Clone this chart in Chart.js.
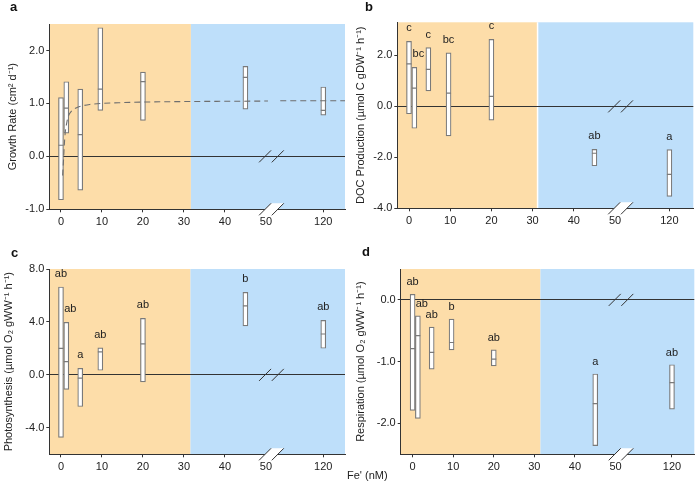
<!DOCTYPE html>
<html><head><meta charset="utf-8">
<script src="https://cdn.jsdelivr.net/npm/chart.js@4.4.1/dist/chart.umd.min.js"></script>
<style>
html,body{margin:0;padding:0;background:#fff;}
body{width:698px;height:491px;position:relative;overflow:hidden;font-family:"Liberation Sans",Arial,sans-serif;color:#222;}
canvas{position:absolute;}
.lbl{position:absolute;font-weight:bold;font-size:13px;color:#111;line-height:13px;}
</style></head><body>
<canvas id="ca" width="349" height="245" style="left:0;top:0"></canvas>
<canvas id="cb" width="349" height="245" style="left:349px;top:0"></canvas>
<canvas id="cc" width="349" height="246" style="left:0;top:245px"></canvas>
<canvas id="cd" width="349" height="246" style="left:349px;top:245px"></canvas>
<div class="lbl" style="left:10px;top:0px">a</div>
<div class="lbl" style="left:365px;top:0px">b</div>
<div class="lbl" style="left:11px;top:246px">c</div>
<div class="lbl" style="left:362px;top:245px">d</div>
<div style="position:absolute;left:347px;top:469px;font-size:11px;">Fe' (nM)</div>
<script>
// ---- data ----
const feValues = [0, 1.3, 4.7, 9.6, 20, 45, 120];
const xTickLabels = [0, 10, 20, 30, 40, 50, 120];

const growthLow    = [-0.82, 0.44, -0.64, 0.87, 0.68, 0.89, 0.78];
const growthHigh   = [1.11, 1.41, 1.27, 2.43, 1.59, 1.70, 1.31];
const growthMedian = [0.21, 0.91, 0.41, 1.27, 1.41, 1.49, 0.87];
const growthFitFe  = [0.4, 0.6, 0.8, 1.0, 1.4, 1.8, 2.5, 3.8, 5, 7, 10, 15, 20, 30, 40, 50.5, 75, 78, 142];
const growthFitY   = [-0.36, -0.1, 0.2, 0.42, 0.63, 0.76, 0.85, 0.92, 0.95, 0.98, 1.0, 1.015, 1.025, 1.035, 1.04, 1.045, null, 1.05, 1.05];
const growthTicks  = [-1, 0, 1, 2];

const docLow    = [-0.29, -0.86, 0.61, -1.16, -0.54, -2.33, -3.53];
const docHigh   = [2.55, 1.53, 2.31, 2.10, 2.63, -1.69, -1.70];
const docMedian = [1.67, 0.72, 1.45, 0.52, 0.39, -1.84, -2.67];
const docLetters = ['c', 'bc', 'c', 'bc', 'c', 'ab', 'a'];
const docTicks  = [-4, -2, 0, 2];

const photoLow    = [-4.73, -1.09, -2.39, 0.35, -0.53, 3.70, 2.01];
const photoHigh   = [6.64, 3.97, 0.50, 2.04, 4.27, 6.24, 4.12];
const photoMedian = [2.01, 1.00, -0.25, 1.74, 2.34, 5.21, 3.09];
const photoLetters = ['ab', 'ab', 'a', 'ab', 'ab', 'b', 'ab'];
const photoTicks  = [-4, 0, 4, 8];

const respLow    = [-1.79, -1.92, -1.12, -0.81, -1.07, -2.36, -1.77];
const respHigh   = [0.09, -0.26, -0.44, -0.31, -0.81, -1.20, -1.05];
const respMedian = [-0.79, -0.58, -0.85, -0.69, -0.96, -1.68, -1.34];
const respLetters = ['ab', 'ab', 'ab', 'b', 'ab', 'a', 'ab'];
const respTicks  = [-2, -1, 0];

// ---- rendering ----
Chart.defaults.font.family = "'Liberation Sans', Arial, Helvetica, sans-serif";
Chart.defaults.font.size = 11;
Chart.defaults.color = '#222';
Chart.defaults.animation = false;

const ORANGE = '#FDDDA9', BLUE = '#BEDFFA', BOXC = '#7a7a7a', AX = '#333';

// broken axis: Fe' above the break is compressed around the 120 tick
function axisPos(fe, p120) { return fe <= 52 ? fe : p120 + (fe - 120) / 4; }

function makePanel(id, P) {
  const cv = document.getElementById(id);
  const W = cv.width, H = cv.height;
  const A = P.area;
  const xs = v => axisPos(v, P.p120);
  const datasets = [];
  if (P.fitFe) {
    datasets.push({
      type: 'line',
      data: P.fitFe.map((f, i) => ({x: xs(f), y: P.fitY[i]})),
      borderColor: '#6e6e6e', borderWidth: 1.1, borderDash: [6, 4],
      pointRadius: 0, cubicInterpolationMode: 'monotone', spanGaps: false, fill: false, order: 0
    });
  }
  datasets.push({
    type: 'line', showLine: false,
    data: feValues.map((f, i) => ({x: xs(f), y: P.median[i]})),
    pointStyle: 'line', pointRadius: 2.5, pointBorderColor: BOXC, pointBorderWidth: 1.2,
    pointHoverRadius: 2.5, order: 1
  });
  datasets.push({
    type: 'bar',
    data: feValues.map((f, i) => ({x: xs(f), y: [P.low[i], P.high[i]]})),
    backgroundColor: '#fff', borderColor: BOXC, borderWidth: 1.2, borderSkipped: false,
    barThickness: 5, order: 2
  });

  const bgPlugin = {
    id: 'bg_' + id,
    beforeDraw(chart) {
      const {ctx, chartArea: ca, scales: {x}} = chart;
      const sx = x.getPixelForValue(P.split);
      ctx.save();
      ctx.fillStyle = ORANGE; ctx.fillRect(ca.left, ca.top, sx - ca.left, ca.bottom - ca.top);
      ctx.fillStyle = BLUE; ctx.fillRect(sx, ca.top, ca.right - sx, ca.bottom - ca.top);
      if (P.whiteSplit) { ctx.fillStyle = '#fff'; ctx.fillRect(sx - 0.75, ca.top, 1.5, ca.bottom - ca.top); }
      ctx.restore();
    },
    afterDatasetsDraw(chart) {
      if (!P.letters) return;
      const {ctx, scales: {x, y}} = chart;
      ctx.save();
      ctx.font = "11px 'Liberation Sans', Arial, sans-serif";
      ctx.fillStyle = '#222'; ctx.textAlign = 'center'; ctx.textBaseline = 'middle';
      P.letters.forEach((t, i) => {
        const px = x.getPixelForValue(xs(feValues[i])) + (i === 1 ? 4 : 0);
        const py = y.getPixelForValue(P.high[i]) - P.letterGap;
        ctx.fillText(t, px, py);
      });
      ctx.restore();
    },
    afterDraw(chart) {
      const {ctx, chartArea: ca, scales: {x, y}} = chart;
      const c1 = x.getPixelForValue(49.8), c2 = x.getPixelForValue(52.9);
      const yb = ca.bottom, y0 = y.getPixelForValue(0);
      ctx.save();
      ctx.fillStyle = '#fff';
      ctx.beginPath();
      ctx.moveTo(c1 - 6, yb + 6); ctx.lineTo(c1 + 6, yb - 6); ctx.lineTo(c2 + 6, yb - 6); ctx.lineTo(c2 - 6, yb + 6);
      ctx.closePath(); ctx.fill();
      ctx.strokeStyle = AX; ctx.lineWidth = 1;
      [yb, y0].forEach(yy => {
        [c1, c2].forEach(cx => {
          ctx.beginPath(); ctx.moveTo(cx - 6, yy + 6); ctx.lineTo(cx + 6, yy - 6); ctx.stroke();
        });
      });
      ctx.restore();
    }
  };

  return new Chart(cv, {
    type: 'bar',
    data: {datasets},
    plugins: [bgPlugin],
    options: {
      responsive: false, devicePixelRatio: 1, animation: false,
      layout: {padding: {left: 0, top: A.T, right: W - A.R, bottom: 0}},
      plugins: {legend: {display: false}, tooltip: {enabled: false}},
      scales: {
        x: {
          type: 'linear', offset: false, min: P.xMin, max: P.xMax,
          afterBuildTicks: s => { s.ticks = xTickLabels.map(v => ({value: xs(v)})); },
          afterFit: s => { s.height = H - A.B; },
          ticks: {
            autoSkip: false, maxRotation: 0, padding: 3, color: '#222',
            callback: (v, i) => String(xTickLabels[i])
          },
          grid: {offset: false, drawOnChartArea: false, drawTicks: true, tickLength: 3, tickColor: AX},
          border: {display: true, color: AX, width: 1}
        },
        y: {
          type: 'linear', min: P.yMin, max: P.yMax,
          afterBuildTicks: s => { s.ticks = P.yTicks.map(v => ({value: v})); },
          afterFit: s => { s.width = A.L; },
          ticks: {padding: 2, color: '#222', callback: v => Number(v).toFixed(1)},
          grid: {
            drawTicks: true, tickLength: 3, tickColor: AX,
            color: c => (c.tick && c.tick.value === 0) ? AX : 'rgba(0,0,0,0)',
            lineWidth: 1
          },
          border: {display: true, color: AX, width: 1},
          title: {display: true, text: P.title, color: '#222', font: {size: 11}, padding: {top: P.titlePad, bottom: 0}}
        }
      }
    }
  });
}

makePanel('ca', {
  area: {L: 49.3, R: 345, T: 24, B: 209.3},
  xMin: -2.85, xMax: 69.3, p120: 64, split: 31.7,
  yMin: -1, yMax: 2.5, yTicks: growthTicks,
  low: growthLow, high: growthHigh, median: growthMedian,
  fitFe: growthFitFe, fitY: growthFitY,
  title: 'Growth Rate (cm² d⁻¹)', titlePad: 6.5
});
makePanel('cb', {
  area: {L: 48.3, R: 344.3, T: 22.3, B: 208.3},
  xMin: -2.84, xMax: 69.0, p120: 63.2, split: 31.2, whiteSplit: true,
  yMin: -4, yMax: 3.3, yTicks: docTicks,
  low: docLow, high: docHigh, median: docMedian,
  letters: docLetters, letterGap: 13,
  title: 'DOC Production (µmol C gDW⁻¹ h⁻¹)', titlePad: 5
});
makePanel('cc', {
  area: {L: 49.3, R: 345, T: 24, B: 209.3},
  xMin: -2.85, xMax: 69.3, p120: 64, split: 31.6,
  yMin: -6, yMax: 8, yTicks: photoTicks,
  low: photoLow, high: photoHigh, median: photoMedian,
  letters: photoLetters, letterGap: 13,
  title: 'Photosynthesis (µmol O₂ gWW⁻¹ h⁻¹)', titlePad: 2
});
makePanel('cd', {
  area: {L: 51.7, R: 348.3, T: 24, B: 209.3},
  xMin: -2.93, xMax: 69.4, p120: 63.9, split: 31.5,
  yMin: -2.5, yMax: 0.5, yTicks: respTicks,
  low: respLow, high: respHigh, median: respMedian,
  letters: respLetters, letterGap: 12,
  title: 'Respiration (µmol O₂ gWW⁻¹ h⁻¹)', titlePad: 5
});
</script>
</body></html>
